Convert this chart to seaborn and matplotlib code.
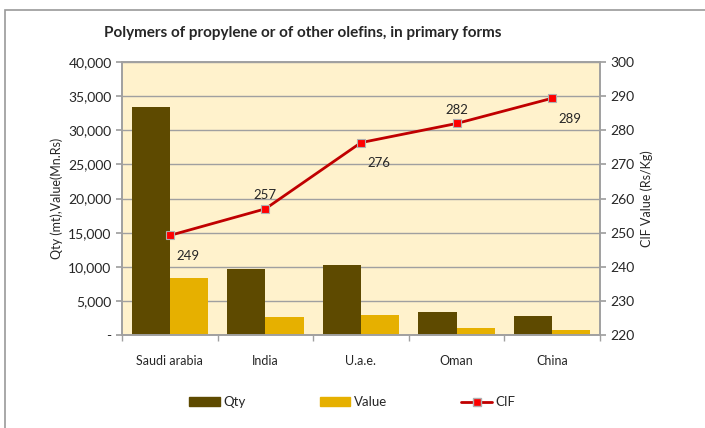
import matplotlib
matplotlib.use('Agg')
import matplotlib.pyplot as plt
import matplotlib.ticker as mticker
from matplotlib.patches import Patch
from matplotlib.lines import Line2D
import numpy as np
import pandas as pd
import seaborn as sns

countries = ['Saudi arabia', 'India', 'U.a.e.', 'Oman', 'China']
qty = [33400, 9700, 10300, 3450, 2800]
value = [8300, 2600, 3000, 1000, 800]
cif = [249.2, 257.0, 276.4, 282.0, 289.4]

sns.set_theme(style='white')
plt.rcParams['font.family'] = ['Lato', 'DejaVu Sans']

df = pd.DataFrame({'country': countries * 2,
                   'amount': qty + value,
                   'series': ['Qty'] * 5 + ['Value'] * 5})

fig = plt.figure(figsize=(7.05, 4.28), dpi=100)
fig.patches.append(plt.Rectangle((0.007, -0.1), 1.2, 1.077, transform=fig.transFigure,
                                 fill=False, edgecolor='#9a9a9a', linewidth=1.2))
ax = fig.add_axes([0.173, 0.217, 0.678, 0.638])
ax.set_facecolor('#FFF2CC')

sns.barplot(data=df, x='country', y='amount', hue='series', ax=ax,
            palette={'Qty': '#5E4A00', 'Value': '#E6B000'}, width=0.8,
            saturation=1, legend=False, linewidth=0, zorder=2)
ax.set_ylim(0, 40000)
ax.set_xlim(-0.5, 4.5)
ax.yaxis.set_major_locator(mticker.MultipleLocator(5000))
ax.yaxis.set_major_formatter(mticker.FuncFormatter(lambda v, p: '-' if v == 0 else f'{int(v):,}'))
ax.grid(axis='y', color='#a0a0a0', linewidth=1.0, zorder=0)
ax.set_axisbelow(True)
ax.set_xlabel('')
ax.set_ylabel('Qty (mt),Value(Mn.Rs)', fontsize=9)
ax.tick_params(axis='y', length=4, color='#a0a0a0', labelsize=10, left=True)
ax.tick_params(axis='x', length=0, labelsize=9, pad=14)
ax.set_xticks(np.arange(-0.5, 5, 1), minor=True)
ax.tick_params(axis='x', which='minor', length=4, color='#a0a0a0', bottom=True)
for s in ax.spines.values():
    s.set_color('#a0a0a0')
    s.set_linewidth(1.2)

ax2 = ax.twinx()
ax2.plot(np.arange(len(countries)), cif, color='#C00000', linewidth=2, marker='s',
         markersize=6, markerfacecolor='#FF0000', markeredgecolor='#b0b0b0',
         markeredgewidth=0.8, zorder=5)
ax2.set_ylim(220, 300)
ax2.yaxis.set_major_locator(mticker.MultipleLocator(10))
ax2.set_ylabel('CIF Value (Rs/Kg)', fontsize=9)
ax2.tick_params(axis='y', length=4, color='#a0a0a0', labelsize=10, right=True)
for s in ax2.spines.values():
    s.set_color('#a0a0a0')
    s.set_linewidth(1.2)

offsets = [(13, -15), (0, 10), (13, -15), (0, 10), (13, -15)]
for i, (v, off) in enumerate(zip(cif, offsets)):
    ax2.annotate(f'{round(v)}', (i, v), xytext=off, textcoords='offset points',
                 ha='center', va='center', fontsize=9.5)

fig.text(0.43, 0.923, 'Polymers of propylene or of other olefins, in primary forms',
         ha='center', va='center', fontsize=11, fontweight='bold')

handles = [Patch(color='#5E4A00', label='Qty'), Patch(color='#E6B000', label='Value'),
           Line2D([], [], color='#C00000', linewidth=2, marker='s', markersize=6,
                  markerfacecolor='#FF0000', markeredgecolor='#b0b0b0', label='CIF')]
fig.legend(handles=handles, loc='center', bbox_to_anchor=(0.5, 0.06), ncol=3,
           frameon=False, fontsize=9.5, handlelength=2.3, handleheight=0.7,
           columnspacing=5.6, handletextpad=0.3)

fig.savefig('out.png', dpi=100)
